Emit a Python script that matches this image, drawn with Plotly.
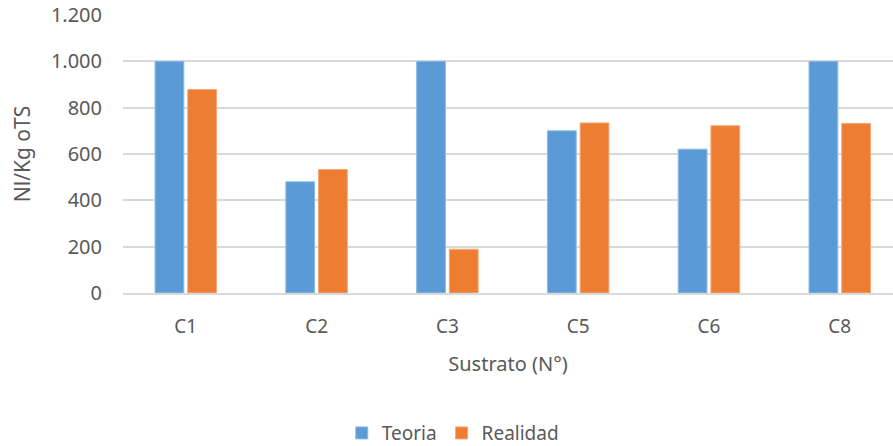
import plotly.graph_objects as go

# Biogas yield per substrate: theoretical vs. measured
categories = ["C1", "C2", "C3", "C5", "C6", "C8"]
teoria = [1000, 480, 1000, 700, 621, 1000]
realidad = [878, 533, 189, 734, 722, 732]

y_tickvals = [0, 200, 400, 600, 800, 1000, 1200]
y_ticktext = ["0", "200", "400", "600", "800", "1.000", "1.200"]

BLUE = "#5B9BD5"
ORANGE = "#ED7D31"
TEXT = "#595959"
GRID = "#D9D9D9"
FONT = "Noto Sans"

fig = go.Figure()
fig.add_trace(go.Bar(
    name="Teoria", x=categories, y=teoria,
    marker=dict(color=BLUE, line=dict(color="#8DBBE6", width=1)),
))
fig.add_trace(go.Bar(
    name="Realidad", x=categories, y=realidad,
    marker=dict(color=ORANGE, line=dict(color="#F4A878", width=1)),
))

fig.update_layout(
    width=893, height=446,
    margin=dict(l=123, r=0, t=15, b=153),
    paper_bgcolor="white", plot_bgcolor="white",
    barmode="group", bargap=0.5, bargroupgap=0.12,
    font=dict(family=FONT, size=19, color=TEXT),
    showlegend=True,
    legend=dict(
        orientation="h", xref="container", x=0.507, xanchor="center",
        yref="container", y=0.029, yanchor="middle",
        font=dict(family=FONT, size=19, color=TEXT),
        itemwidth=30, traceorder="normal",
    ),
    xaxis=dict(
        range=[-0.48, 5.407], automargin=False,
        showgrid=False, showline=True, linecolor=GRID, linewidth=2,
        ticks="", ticklabelstandoff=15,
        tickfont=dict(family=FONT, size=19, color=TEXT),
        title=dict(text="Sustrato (N°)", standoff=19,
                   font=dict(family=FONT, size=20, color=TEXT)),
    ),
    yaxis=dict(
        range=[0, 1200], automargin=False,
        tickvals=y_tickvals, ticktext=y_ticktext,
        showgrid=True, gridcolor=GRID, gridwidth=2,
        zeroline=False, showline=False, ticks="",
        ticklabelstandoff=20,
        tickfont=dict(family=FONT, size=20, color=TEXT),
        title=dict(text="Nl/Kg oTS", standoff=14,
                   font=dict(family=FONT, size=21, color=TEXT)),
    ),
)

fig.write_html("out.html")
